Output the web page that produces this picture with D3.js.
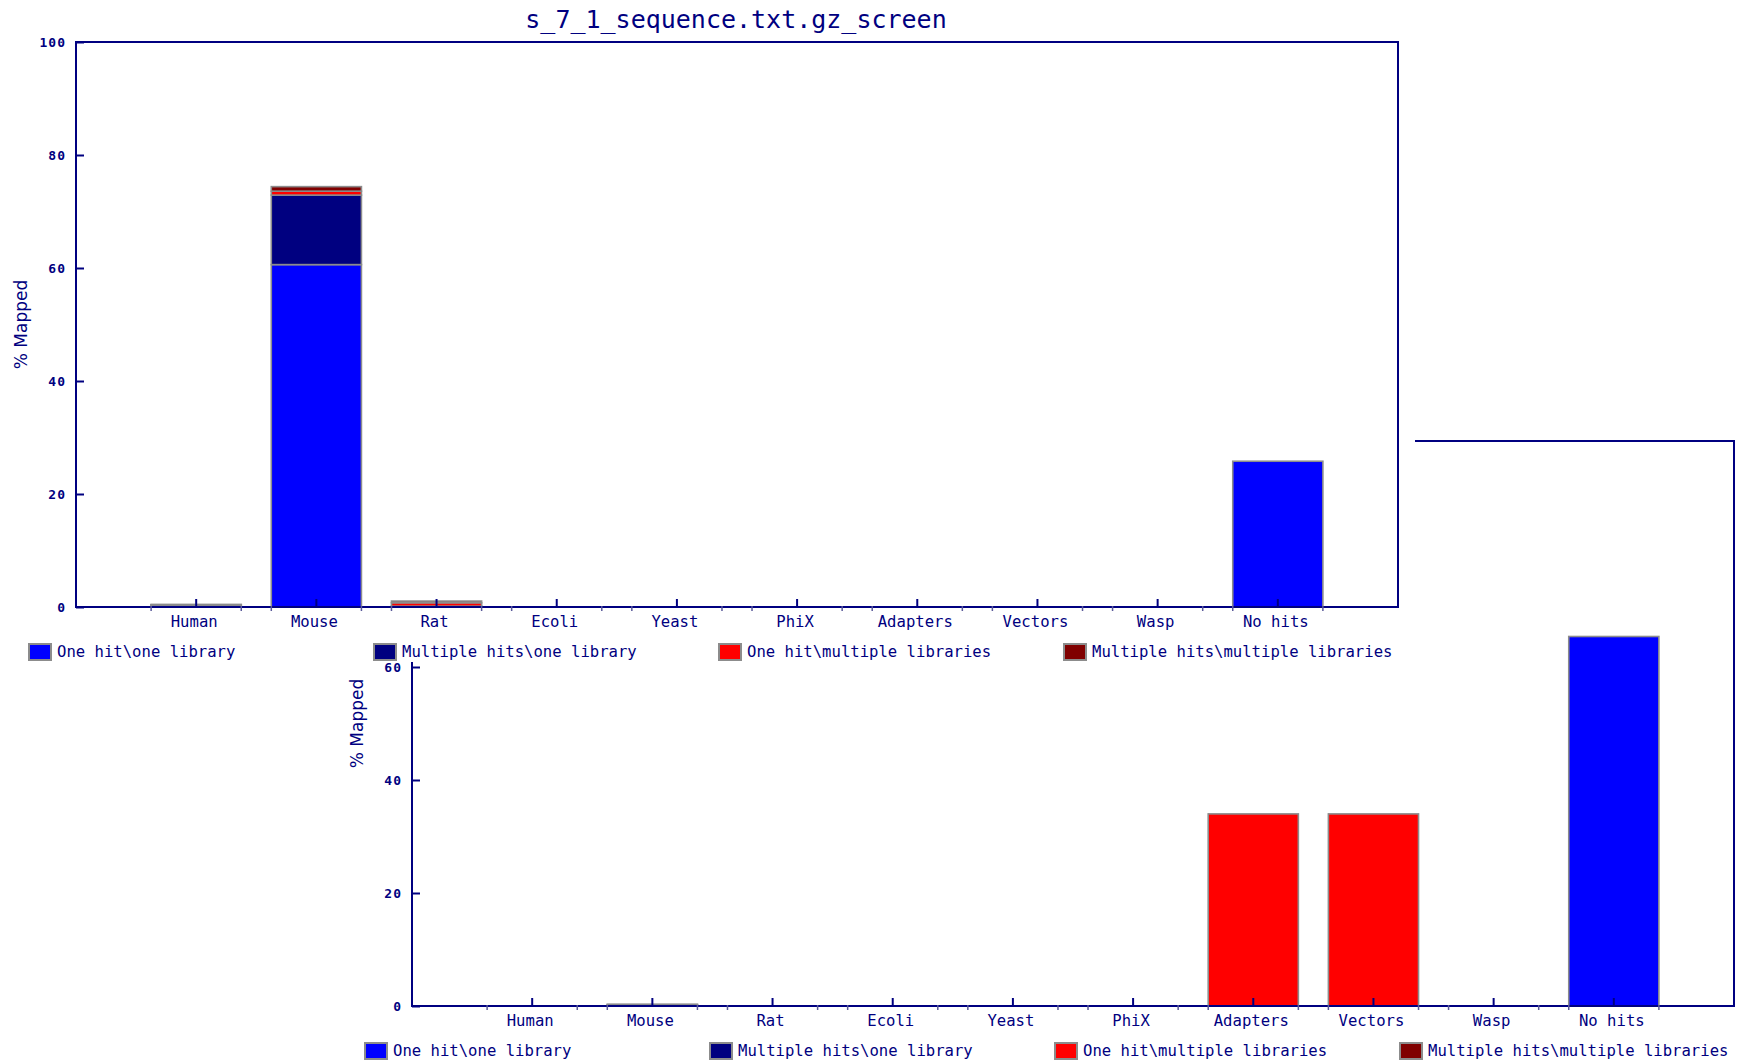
<!DOCTYPE html>
<html>
<head>
<meta charset="utf-8">
<script src="https://cdn.jsdelivr.net/npm/d3@7"></script>
<style>
  html, body { margin: 0; padding: 0; background: #fff; }
  svg { display: block; }
</style>
</head>
<body>
<svg id="chart" width="1744" height="1061"></svg>
<script>
// ---------------- DATA ----------------
const categories = ["Human", "Mouse", "Rat", "Ecoli", "Yeast", "PhiX", "Adapters", "Vectors", "Wasp", "No hits"];
const seriesNames = ["One hit\\one library", "Multiple hits\\one library", "One hit\\multiple libraries", "Multiple hits\\multiple libraries"];
const seriesColors = ["#0000ff", "#000080", "#ff0000", "#800000"];
const yTicks = [0, 20, 40, 60, 80, 100];
const chartTitle = "s_7_1_sequence.txt.gz_screen";
const yLabel = "% Mapped";

// first (front) chart
const front_oneHitOneLib       = [0.25, 60.6, 0.1,  0, 0, 0, 0, 0, 0, 25.8];
const front_multiHitsOneLib    = [0.1,  12.3, 0.05, 0, 0, 0, 0, 0, 0, 0];
const front_oneHitMultiLibs    = [0.05, 0.7,  0.6,  0, 0, 0, 0, 0, 0, 0];
const front_multiHitsMultiLibs = [0.05, 0.8,  0.3,  0, 0, 0, 0, 0, 0, 0];

// second (back) chart
const back_oneHitOneLib       = [0, 0.15, 0, 0, 0, 0, 0,    0,    0, 65.4];
const back_multiHitsOneLib    = [0, 0.1,  0, 0, 0, 0, 0,    0,    0, 0];
const back_oneHitMultiLibs    = [0, 0,    0, 0, 0, 0, 34.0, 34.0, 0, 0];
const back_multiHitsMultiLibs = [0, 0.05, 0, 0, 0, 0, 0,    0,    0, 0];

// ---------------- DRAW ----------------
const NAVY = "#000080";
const BORDER = "#8c8c8c";
const svg = d3.select("#chart");

function buildRows(s1, s2, s3, s4) {
  return categories.map((c, i) => ({ cat: c, s0: s1[i], s1: s2[i], s2: s3[i], s3: s4[i] }));
}

function drawChart(g, rows, showTitle) {
  const L = 76, R = 1398, T = 42, B = 607;
  const x = d3.scaleBand().domain(categories).range([L, R]).paddingInner(0.25).paddingOuter(0.625);
  const y = d3.scaleLinear().domain([0, 100]).range([B, T]);

  if (showTitle) {
    g.append("text").attr("x", (L + R) / 2 - 1).attr("y", 28)
      .attr("text-anchor", "middle")
      .attr("font-family", "DejaVu Sans Mono").attr("font-size", 25)
      .attr("fill", NAVY).text(chartTitle);
  }

  // bars
  const keys = ["s0", "s1", "s2", "s3"];
  const stacked = d3.stack().keys(keys)(rows);
  stacked.forEach((layer, li) => {
    g.append("g").selectAll("rect").data(layer.filter(d => d[1] - d[0] > 0)).join("rect")
      .attr("x", d => x(d.data.cat))
      .attr("width", x.bandwidth())
      .attr("y", d => y(d[1]))
      .attr("height", d => Math.max(0, y(d[0]) - y(d[1])))
      .attr("fill", seriesColors[li])
      .attr("stroke", BORDER).attr("stroke-width", 1.6);
  });

  // frame
  g.append("rect").attr("x", L).attr("y", T).attr("width", R - L).attr("height", B - T)
    .attr("fill", "none").attr("stroke", NAVY).attr("stroke-width", 2);

  // y axis ticks (inward) and labels
  const yAxis = d3.axisLeft(y).tickValues(yTicks).tickSize(-8).tickPadding(10).tickFormat(d3.format("d"));
  const ya = g.append("g").attr("transform", `translate(${L},0)`).call(yAxis);
  ya.select(".domain").remove();
  ya.selectAll("line").attr("stroke", NAVY).attr("stroke-width", 2);
  ya.selectAll("text").attr("font-family", "DejaVu Sans Mono").attr("font-weight", "bold")
    .attr("font-size", 13).attr("letter-spacing", 1).attr("fill", NAVY);

  // x axis: major ticks inward at category centers
  const xAxis = d3.axisBottom(x).tickSize(-8).tickPadding(9);
  const xa = g.append("g").attr("transform", `translate(0,${B})`).call(xAxis);
  xa.select(".domain").remove();
  xa.selectAll("line").attr("stroke", NAVY).attr("stroke-width", 2);
  xa.selectAll("text").attr("font-family", "DejaVu Sans Mono").attr("font-size", 15.6)
    .attr("dx", -2).attr("fill", NAVY);

  // small marks at bar edges
  const edges = [];
  categories.forEach(c => { edges.push(x(c)); edges.push(x(c) + x.bandwidth()); });
  g.append("g").selectAll("line").data(edges).join("line")
    .attr("x1", d => d).attr("x2", d => d).attr("y1", B - 1).attr("y2", B + 4)
    .attr("stroke", "#5a5a9a").attr("stroke-width", 1.5);

  // y label
  g.append("text").attr("transform", `translate(27,${(T + B) / 2}) rotate(-90)`)
    .attr("text-anchor", "middle")
    .attr("font-family", "DejaVu Sans").attr("font-size", 17)
    .attr("fill", NAVY).text(yLabel);

  // legend
  const lg = g.append("g").selectAll("g").data(seriesNames).join("g")
    .attr("transform", (d, i) => `translate(${29 + i * 345},644)`);
  lg.append("rect").attr("width", 22).attr("height", 16)
    .attr("fill", (d, i) => seriesColors[i]).attr("stroke", BORDER).attr("stroke-width", 2);
  lg.append("text").attr("x", 28).attr("y", 13)
    .attr("font-family", "DejaVu Sans Mono").attr("font-size", 15.6)
    .attr("fill", NAVY).text(d => d);
}

// back chart (offset), then cover, then front chart
const back = svg.append("g").attr("transform", "translate(336,399)");
drawChart(back, buildRows(back_oneHitOneLib, back_multiHitsOneLib, back_oneHitMultiLibs, back_multiHitsMultiLibs), true);

svg.append("rect").attr("x", 0).attr("y", 0).attr("width", 1415).attr("height", 662).attr("fill", "#fff");

const front = svg.append("g");
drawChart(front, buildRows(front_oneHitOneLib, front_multiHitsOneLib, front_oneHitMultiLibs, front_multiHitsMultiLibs), true);
</script>
</body>
</html>
